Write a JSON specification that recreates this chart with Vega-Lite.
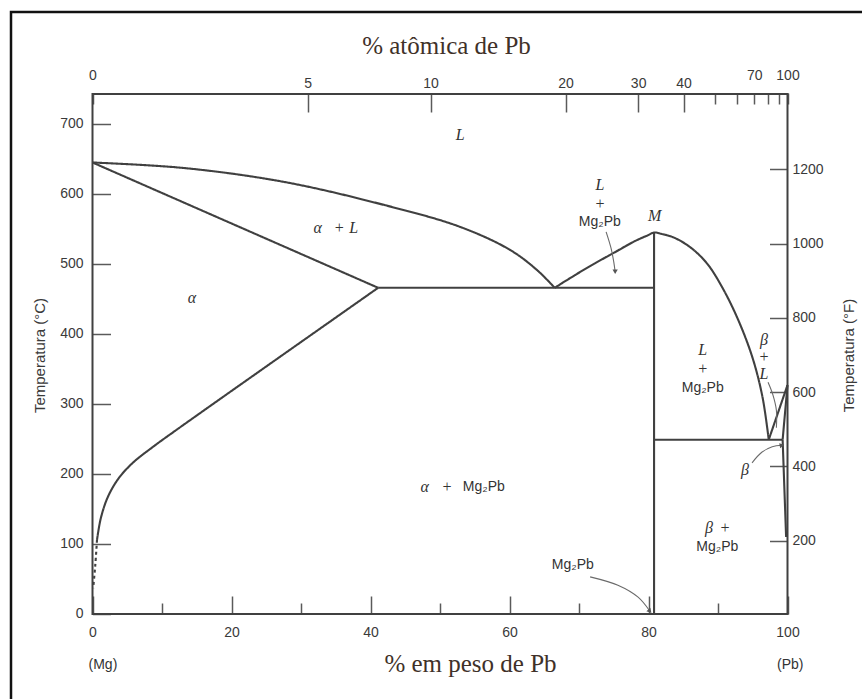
{
  "$schema": "https://vega.github.io/schema/vega-lite/v6.json",
  "width": 851,
  "height": 687,
  "padding": {"left": 11, "top": 12, "right": 0, "bottom": 0},
  "autosize": {"type": "none"},
  "background": "white",
  "config": {
    "view": {"stroke": "#111111", "strokeWidth": 2.5, "strokeDash": [851, 1538, 687]},
    "axis": {
      "domain": false,
      "grid": false,
      "labelFont": "Liberation Sans",
      "labelFontSize": 14,
      "labelColor": "#3a3a3a",
      "tickColor": "#5a5a5a",
      "tickWidth": 1.5,
      "labelFlush": false,
      "labelOverlap": false,
      "titleFontWeight": "normal"
    }
  },
  "datasets": {
    "frame": [{"wt0": 0, "wt1": 100, "T0": 0, "T1": 743}],
    "boundaries": [
      {"boundary": "liquidus_alpha", "seq": 1, "wt": 0, "T": 645, "status": "established"},
      {"boundary": "liquidus_alpha", "seq": 2, "wt": 13.3, "T": 637, "status": "established"},
      {"boundary": "liquidus_alpha", "seq": 3, "wt": 27.7, "T": 617, "status": "established"},
      {"boundary": "liquidus_alpha", "seq": 4, "wt": 42.1, "T": 584, "status": "established"},
      {"boundary": "liquidus_alpha", "seq": 5, "wt": 52.9, "T": 553, "status": "established"},
      {"boundary": "liquidus_alpha", "seq": 6, "wt": 60.1, "T": 520, "status": "established"},
      {"boundary": "liquidus_alpha", "seq": 7, "wt": 64.0, "T": 491, "status": "established"},
      {"boundary": "liquidus_alpha", "seq": 8, "wt": 66.5, "T": 466, "status": "established"},
      {"boundary": "solidus_alpha", "seq": 1, "wt": 0, "T": 645, "status": "established"},
      {"boundary": "solidus_alpha", "seq": 2, "wt": 41.1, "T": 466, "status": "established"},
      {"boundary": "solvus_alpha", "seq": 1, "wt": 41.1, "T": 466, "status": "established"},
      {"boundary": "solvus_alpha", "seq": 2, "wt": 12.5, "T": 266, "status": "established"},
      {"boundary": "solvus_alpha", "seq": 3, "wt": 8.6, "T": 238, "status": "established"},
      {"boundary": "solvus_alpha", "seq": 4, "wt": 5.8, "T": 216, "status": "established"},
      {"boundary": "solvus_alpha", "seq": 5, "wt": 3.7, "T": 193, "status": "established"},
      {"boundary": "solvus_alpha", "seq": 6, "wt": 2.2, "T": 167, "status": "established"},
      {"boundary": "solvus_alpha", "seq": 7, "wt": 1.2, "T": 137, "status": "established"},
      {"boundary": "solvus_alpha", "seq": 8, "wt": 0.65, "T": 106, "status": "established"},
      {"boundary": "solvus_alpha_low", "seq": 1, "wt": 0.65, "T": 106, "status": "estimated"},
      {"boundary": "solvus_alpha_low", "seq": 2, "wt": 0.4, "T": 70, "status": "estimated"},
      {"boundary": "solvus_alpha_low", "seq": 3, "wt": 0.1, "T": 37, "status": "estimated"},
      {"boundary": "eutectic_alpha_Mg2Pb", "seq": 1, "wt": 41.1, "T": 466, "status": "established"},
      {"boundary": "eutectic_alpha_Mg2Pb", "seq": 2, "wt": 80.8, "T": 466, "status": "established"},
      {"boundary": "liquidus_Mg2Pb", "seq": 1, "wt": 66.5, "T": 466, "status": "established"},
      {"boundary": "liquidus_Mg2Pb", "seq": 2, "wt": 69.4, "T": 484, "status": "established"},
      {"boundary": "liquidus_Mg2Pb", "seq": 3, "wt": 72.3, "T": 501, "status": "established"},
      {"boundary": "liquidus_Mg2Pb", "seq": 4, "wt": 75.2, "T": 517, "status": "established"},
      {"boundary": "liquidus_Mg2Pb", "seq": 5, "wt": 78.1, "T": 533, "status": "established"},
      {"boundary": "liquidus_Mg2Pb", "seq": 6, "wt": 79.9, "T": 541, "status": "established"},
      {"boundary": "liquidus_Mg2Pb", "seq": 7, "wt": 80.8, "T": 545, "status": "established"},
      {"boundary": "liquidus_Mg2Pb", "seq": 8, "wt": 81.9, "T": 543, "status": "established"},
      {"boundary": "liquidus_Mg2Pb", "seq": 9, "wt": 83.6, "T": 538, "status": "established"},
      {"boundary": "liquidus_Mg2Pb", "seq": 10, "wt": 86.0, "T": 524, "status": "established"},
      {"boundary": "liquidus_Mg2Pb", "seq": 11, "wt": 88.4, "T": 501, "status": "established"},
      {"boundary": "liquidus_Mg2Pb", "seq": 12, "wt": 90.7, "T": 465, "status": "established"},
      {"boundary": "liquidus_Mg2Pb", "seq": 13, "wt": 93.0, "T": 418, "status": "established"},
      {"boundary": "liquidus_Mg2Pb", "seq": 14, "wt": 95.0, "T": 365, "status": "established"},
      {"boundary": "liquidus_Mg2Pb", "seq": 15, "wt": 96.4, "T": 310, "status": "established"},
      {"boundary": "liquidus_Mg2Pb", "seq": 16, "wt": 97.3, "T": 249, "status": "established"},
      {"boundary": "Mg2Pb", "seq": 1, "wt": 80.8, "T": 0, "status": "established"},
      {"boundary": "Mg2Pb", "seq": 2, "wt": 80.8, "T": 545, "status": "established"},
      {"boundary": "eutectic_Mg2Pb_beta", "seq": 1, "wt": 80.8, "T": 249, "status": "established"},
      {"boundary": "eutectic_Mg2Pb_beta", "seq": 2, "wt": 99.3, "T": 249, "status": "established"},
      {"boundary": "liquidus_beta", "seq": 1, "wt": 97.3, "T": 249, "status": "established"},
      {"boundary": "liquidus_beta", "seq": 2, "wt": 100, "T": 327, "status": "established"},
      {"boundary": "solidus_beta", "seq": 1, "wt": 100, "T": 327, "status": "established"},
      {"boundary": "solidus_beta", "seq": 2, "wt": 99.3, "T": 249, "status": "established"},
      {"boundary": "solvus_beta", "seq": 1, "wt": 99.3, "T": 249, "status": "established"},
      {"boundary": "solvus_beta", "seq": 2, "wt": 99.8, "T": 110, "status": "established"}
    ],
    "leaders": [
      {"leader": "L+Mg2Pb", "seq": 1, "wt": 73.9, "T": 546},
      {"leader": "L+Mg2Pb", "seq": 2, "wt": 74.6, "T": 523},
      {"leader": "L+Mg2Pb", "seq": 3, "wt": 75.0, "T": 503},
      {"leader": "L+Mg2Pb", "seq": 4, "wt": 75.2, "T": 489},
      {"leader": "Mg2Pb", "seq": 1, "wt": 71.6, "T": 53},
      {"leader": "Mg2Pb", "seq": 2, "wt": 75.6, "T": 41},
      {"leader": "Mg2Pb", "seq": 3, "wt": 78.5, "T": 24},
      {"leader": "Mg2Pb", "seq": 4, "wt": 80.2, "T": 4},
      {"leader": "beta", "seq": 1, "wt": 94.9, "T": 216},
      {"leader": "beta", "seq": 2, "wt": 96.3, "T": 231},
      {"leader": "beta", "seq": 3, "wt": 97.8, "T": 239},
      {"leader": "beta", "seq": 4, "wt": 99.2, "T": 241},
      {"leader": "beta+L", "seq": 1, "wt": 97.2, "T": 331},
      {"leader": "beta+L", "seq": 2, "wt": 97.9, "T": 313},
      {"leader": "beta+L", "seq": 3, "wt": 98.4, "T": 291},
      {"leader": "beta+L", "seq": 4, "wt": 98.4, "T": 266}
    ],
    "arrowheads": [
      {"leader": "L+Mg2Pb", "wt": 75.2, "T": 489, "heading": 180},
      {"leader": "Mg2Pb", "wt": 80.2, "T": 4, "heading": 139},
      {"leader": "beta", "wt": 99.2, "T": 241, "heading": 79}
    ],
    "phaseLabels": [
      {"text": "L", "wt": 52.9, "T": 684},
      {"text": "α", "wt": 32.4, "T": 551},
      {"text": "+", "wt": 35.5, "T": 551},
      {"text": "L", "wt": 37.6, "T": 551},
      {"text": "α", "wt": 14.3, "T": 451},
      {"text": "L", "wt": 73.0, "T": 613},
      {"text": "+", "wt": 73.0, "T": 586},
      {"text": "M", "wt": 80.9, "T": 569},
      {"text": "L", "wt": 87.8, "T": 377},
      {"text": "+", "wt": 87.8, "T": 350},
      {"text": "β", "wt": 96.6, "T": 391},
      {"text": "+", "wt": 96.6, "T": 367},
      {"text": "L", "wt": 96.6, "T": 343},
      {"text": "β", "wt": 93.9, "T": 206},
      {"text": "α", "wt": 47.8, "T": 181},
      {"text": "+", "wt": 51.0, "T": 181},
      {"text": "β", "wt": 88.7, "T": 123},
      {"text": "+", "wt": 91.0, "T": 123}
    ],
    "compoundLabels": [
      {"text": "Mg₂Pb", "wt": 73.0, "T": 560},
      {"text": "Mg₂Pb", "wt": 87.8, "T": 323},
      {"text": "Mg₂Pb", "wt": 56.3, "T": 181},
      {"text": "Mg₂Pb", "wt": 89.9, "T": 96},
      {"text": "Mg₂Pb", "wt": 69.1, "T": 70},
      {"text": "(Mg)", "wt": 1.5, "T": -73},
      {"text": "(Pb)", "wt": 100.4, "T": -73}
    ],
    "fahrenheit": [{"F": 200}, {"F": 1200}]
  },
  "layer": [
    {
      "data": {"name": "frame"},
      "mark": {"type": "rect", "filled": false, "stroke": "#404040", "strokeWidth": 2},
      "encoding": {
        "x": {
          "field": "wt0", "type": "quantitative",
          "scale": {"domain": [-11.727, 110.719], "nice": false, "zero": false},
          "axis": {
            "orient": "top",
            "offset": -81,
            "values": [0, 30.97, 48.64, 68.06, 78.51, 85.04, 89.5, 92.75, 95.21, 97.15, 98.71, 100],
            "tickSize": {"condition": {"test": "datum.value > 1 && datum.value < 86", "value": -19}, "value": -11},
            "labelPadding": 22,
            "labelExpr": "indexof([0, 5, 10, 20, 30, 40, 70, 100], round(100 * datum.value / 207.2 / (datum.value / 207.2 + (100 - datum.value) / 24.305))) >= 0 ? '' + round(100 * datum.value / 207.2 / (datum.value / 207.2 + (100 - datum.value) / 24.305)) : ''",
            "title": "% atômica de Pb",
            "titleFont": "Liberation Serif",
            "titleFontSize": 25,
            "titleColor": "#3f3129",
            "titleX": 435,
            "titleY": -48,
            "titleAlign": "center",
            "titleBaseline": "middle"
          }
        },
        "x2": {"field": "wt1"},
        "y": {
          "field": "T0", "type": "quantitative",
          "scale": {"domain": [-121.43, 860], "nice": false, "zero": false},
          "axis": {
            "orient": "left",
            "offset": -81.5,
            "values": [0, 100, 200, 300, 400, 500, 600, 700],
            "tickSize": -18,
            "labelPadding": 27.5,
            "title": "Temperatura (°C)",
            "titleFont": "Liberation Sans",
            "titleFontSize": 15,
            "titleColor": "#3a3a3a",
            "titleX": -53.5,
            "titleY": 343,
            "titleAngle": 270,
            "titleAlign": "center",
            "titleBaseline": "middle"
          }
        },
        "y2": {"field": "T1"}
      }
    },
    {
      "data": {"name": "boundaries"},
      "mark": {"type": "line", "interpolate": "catmull-rom", "strokeWidth": 2.1, "color": "#404040"},
      "encoding": {
        "x": {
          "field": "wt", "type": "quantitative",
          "scale": {"domain": [-11.727, 110.719], "nice": false, "zero": false},
          "axis": {
            "orient": "bottom",
            "offset": -85,
            "values": [0, 10, 20, 30, 40, 50, 60, 70, 80, 90, 100],
            "tickSize": {"condition": {"test": "datum.value % 20 === 0", "value": -18}, "value": -11},
            "labelPadding": 29,
            "labelExpr": "datum.value % 20 === 0 ? datum.label : ''",
            "title": "% em peso de Pb",
            "titleFont": "Liberation Serif",
            "titleFontSize": 25,
            "titleColor": "#3f3129",
            "titleX": 459,
            "titleY": 49,
            "titleAlign": "center",
            "titleBaseline": "middle"
          }
        },
        "y": {
          "field": "T", "type": "quantitative",
          "scale": {"domain": [-121.43, 860], "nice": false, "zero": false},
          "axis": null
        },
        "detail": {"field": "boundary"},
        "order": {"field": "seq", "type": "quantitative"},
        "strokeDash": {
          "field": "status", "type": "nominal",
          "scale": {"domain": ["established", "estimated"], "range": [[1, 0], [3, 3]]},
          "legend": null
        }
      }
    },
    {
      "data": {"name": "leaders"},
      "mark": {"type": "line", "interpolate": "catmull-rom", "strokeWidth": 1.1, "color": "#6a6a6a"},
      "encoding": {
        "x": {"field": "wt", "type": "quantitative", "scale": {"domain": [-11.727, 110.719], "nice": false, "zero": false}, "axis": null},
        "y": {"field": "T", "type": "quantitative", "scale": {"domain": [-121.43, 860], "nice": false, "zero": false}, "axis": null},
        "detail": {"field": "leader"},
        "order": {"field": "seq", "type": "quantitative"}
      }
    },
    {
      "data": {"name": "arrowheads"},
      "mark": {"type": "point", "shape": "triangle-up", "filled": true, "size": 28, "color": "#555555", "opacity": 1},
      "encoding": {
        "x": {"field": "wt", "type": "quantitative", "scale": {"domain": [-11.727, 110.719], "nice": false, "zero": false}, "axis": null},
        "y": {"field": "T", "type": "quantitative", "scale": {"domain": [-121.43, 860], "nice": false, "zero": false}, "axis": null},
        "angle": {"field": "heading", "type": "quantitative", "scale": null}
      }
    },
    {
      "data": {"name": "phaseLabels"},
      "mark": {"type": "text", "font": "Liberation Serif", "fontStyle": "italic", "fontSize": 16, "color": "#333333", "align": "center", "baseline": "middle"},
      "encoding": {
        "x": {"field": "wt", "type": "quantitative", "scale": {"domain": [-11.727, 110.719], "nice": false, "zero": false}, "axis": null},
        "y": {"field": "T", "type": "quantitative", "scale": {"domain": [-121.43, 860], "nice": false, "zero": false}, "axis": null},
        "text": {"field": "text"}
      }
    },
    {
      "data": {"name": "compoundLabels"},
      "mark": {"type": "text", "font": "Liberation Sans", "fontSize": 14, "color": "#333333", "align": "center", "baseline": "middle"},
      "encoding": {
        "x": {"field": "wt", "type": "quantitative", "scale": {"domain": [-11.727, 110.719], "nice": false, "zero": false}, "axis": null},
        "y": {"field": "T", "type": "quantitative", "scale": {"domain": [-121.43, 860], "nice": false, "zero": false}, "axis": null},
        "text": {"field": "text"}
      }
    },
    {
      "data": {"name": "fahrenheit"},
      "mark": {"type": "point", "opacity": 0},
      "encoding": {
        "y": {
          "field": "F", "type": "quantitative",
          "scale": {"domain": [-225.7, 1623.1], "nice": false, "zero": false},
          "axis": {
            "orient": "right",
            "offset": -74.5,
            "values": [200, 400, 600, 800, 1000, 1200],
            "format": "d",
            "tickSize": -18,
            "labelPadding": 22.5,
            "title": "Temperatura (°F)",
            "titleFont": "Liberation Sans",
            "titleFontSize": 15,
            "titleColor": "#3a3a3a",
            "titleX": 60.5,
            "titleY": 343,
            "titleAngle": 270,
            "titleAlign": "center",
            "titleBaseline": "middle"
          }
        }
      }
    }
  ],
  "resolve": {"scale": {"y": "independent"}}
}
